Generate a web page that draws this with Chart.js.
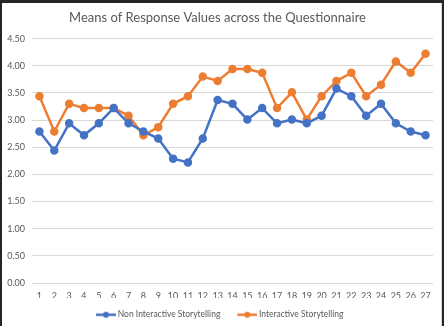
<!DOCTYPE html>
<html>
<head>
<meta charset="utf-8">
<script src="https://cdn.jsdelivr.net/npm/chart.js@4/dist/chart.umd.min.js"></script>
<style>
  html, body { margin: 0; padding: 0; background: #262626; width: 444px; height: 326px; overflow: hidden; }
  #frame { position: absolute; left: 2px; top: 3px; width: 439px; height: 323px; background: #ffffff; border-right: 1px solid #d9d9d9; overflow: hidden; }
  canvas { display: block; }
</style>
</head>
<body>
<div id="frame"><canvas id="c" width="439" height="326"></canvas></div>
<script>
const questions = ["1","2","3","4","5","6","7","8","9","10","11","12","13","14","15","16","17","18","19","20","21","22","23","24","25","26","27"];
const nonInteractive = [2.79,2.44,2.94,2.72,2.94,3.22,2.94,2.79,2.66,2.29,2.22,2.66,3.37,3.30,3.01,3.22,2.94,3.01,2.94,3.08,3.58,3.44,3.08,3.30,2.94,2.79,2.72];
const interactive = [3.44,2.79,3.30,3.22,3.22,3.22,3.08,2.72,2.87,3.30,3.44,3.80,3.72,3.94,3.94,3.87,3.22,3.51,3.01,3.44,3.72,3.87,3.44,3.65,4.08,3.87,4.22];
const yTicks = [0,0.5,1,1.5,2,2.5,3,3.5,4,4.5];

const BLUE = "#4472C4";
const ORANGE = "#ED7D31";
const FONT = "Lato, 'Open Sans', sans-serif";

// line-with-dot legend swatch; the transparent left part keeps items apart
// while the drawn part sits close to its label
function swatch(color) {
  const c = document.createElement("canvas");
  c.width = 27; c.height = 8;
  const g = c.getContext("2d");
  g.strokeStyle = color; g.lineWidth = 2.5;
  g.beginPath(); g.moveTo(7, 4); g.lineTo(27, 4); g.stroke();
  g.fillStyle = color;
  g.beginPath(); g.arc(17, 4, 3, 0, Math.PI * 2); g.fill();
  return c;
}

new Chart(document.getElementById("c"), {
  type: "line",
  data: {
    labels: questions,
    datasets: [
      { label: "Non Interactive Storytelling", data: nonInteractive, borderColor: BLUE, backgroundColor: BLUE,
        borderWidth: 2.5, pointRadius: 3, pointHoverRadius: 3, tension: 0 },
      { label: "Interactive Storytelling", data: interactive, borderColor: ORANGE, backgroundColor: ORANGE,
        borderWidth: 2.5, pointRadius: 3, pointHoverRadius: 3, tension: 0 }
    ]
  },
  options: {
    responsive: false,
    animation: false,
    events: [],
    layout: { padding: { left: 0, right: 8, top: 4, bottom: 0 } },
    plugins: {
      title: {
        display: true,
        text: "Means of Response Values across the Questionnaire",
        color: "#595959",
        font: { family: FONT, size: 13, weight: "normal" },
        padding: { top: 3, bottom: 13 }
      },
      legend: {
        position: "bottom",
        labels: {
          color: "#595959",
          font: { family: FONT, size: 8.5 },
          usePointStyle: true,
          pointStyleWidth: 22,
          boxWidth: 22,
          boxHeight: 8,
          padding: 12.5,
          generateLabels(chart) {
            return chart.data.datasets.map((ds, i) => ({
              text: ds.label,
              fillStyle: ds.borderColor,
              strokeStyle: ds.borderColor,
              fontColor: "#595959",
              pointStyle: swatch(ds.borderColor),
              datasetIndex: i,
              hidden: false,
              lineWidth: 0
            }));
          }
        }
      },
      tooltip: { enabled: false }
    },
    scales: {
      x: {
        offset: true,
        afterFit(scale) { scale.height = 15; },
        grid: { display: false, drawTicks: false },
        border: { display: false },
        ticks: { color: "#595959", font: { family: FONT, size: 9 }, padding: 8, maxRotation: 0, autoSkip: false }
      },
      y: {
        min: 0, max: 4.5,
        afterBuildTicks(scale) { scale.ticks = yTicks.map(v => ({ value: v })); },
        afterFit(scale) { scale.width = 30; },
        grid: { color: "#d9d9d9", lineWidth: 1, drawTicks: false },
        border: { display: false },
        ticks: { color: "#595959", font: { family: FONT, size: 9 }, padding: 7,
          callback: v => Number(v).toFixed(2) }
      }
    }
  }
});
</script>
</body>
</html>
